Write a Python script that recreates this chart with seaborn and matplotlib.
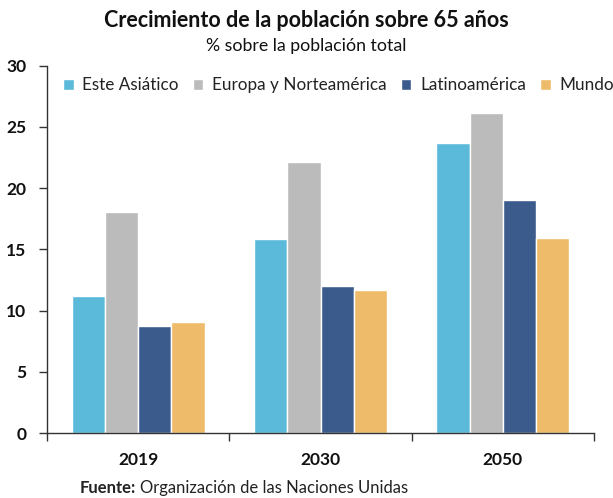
import numpy as np
import pandas as pd
import matplotlib
matplotlib.use("Agg")
import matplotlib.pyplot as plt
import seaborn as sns
from matplotlib.ticker import FixedLocator

years = ["2019", "2030", "2050"]
regions = ["Este Asiático", "Europa y Norteamérica", "Latinoamérica", "Mundo"]
este_asiatico = [11.2, 15.8, 23.7]
europa_na = [18.05, 22.15, 26.15]
latinoamerica = [8.7, 12.0, 19.0]
mundo = [9.1, 11.7, 15.9]
colors = ["#5BB9D9", "#BBBBBB", "#3B5B8D", "#EDBB6A"]

df = pd.DataFrame({
    "year": years * 4,
    "region": [r for r in regions for _ in years],
    "value": este_asiatico + europa_na + latinoamerica + mundo,
})

sns.set_style("white")
plt.rcParams["font.family"] = ["Lato", "DejaVu Sans"]

fig = plt.figure(figsize=(6.13, 4.98), dpi=100)
ax = fig.add_axes([47 / 613, 1 - 433 / 498, (594 - 47) / 613, (433 - 65.5) / 498])

sns.barplot(data=df, x="year", y="value", hue="region", palette=colors,
            width=0.73, ax=ax, legend=True, saturation=1)

ax.set_ylim(0, 30)
ax.set_xlim(-0.5, 2.5)
ax.set_yticks([0, 5, 10, 15, 20, 25, 30])
ax.set_xlabel("")
ax.set_ylabel("")
for lbl in ax.get_yticklabels() + ax.get_xticklabels():
    lbl.set_fontweight("bold")
    lbl.set_fontsize(12.5)
    lbl.set_color("#111111")
ax.tick_params(axis="y", left=True, length=6, width=1, color="#333333", pad=9)
ax.tick_params(axis="x", bottom=False, pad=10)
ax.xaxis.set_minor_locator(FixedLocator([-0.5, 0.5, 1.5, 2.5]))
ax.tick_params(axis="x", which="minor", bottom=True, length=6, width=1, color="#333333")
sns.despine(ax=ax)
for s in ["left", "bottom"]:
    ax.spines[s].set_color("#333333")
    ax.spines[s].set_linewidth(1)

ax.legend(loc="upper left", bbox_to_anchor=(0.03, 0.968), ncol=4, frameon=False,
          handlelength=0.6, handleheight=0.6, handletextpad=0.5, columnspacing=0.85,
          fontsize=12.3, borderaxespad=0, borderpad=0)
for t in ax.get_legend().get_texts():
    t.set_color("#222222")

fig.text(0.5, 1 - 20 / 498, "Crecimiento de la población sobre 65 años",
         ha="center", va="center", fontsize=15.5, fontweight="bold", color="#111111")
fig.text(0.5, 1 - 46 / 498, "% sobre la población total",
         ha="center", va="center", fontsize=12.8, color="#111111")
t1 = fig.text(80 / 613, 1 - 488 / 498, "Fuente:", ha="left", va="center",
              fontsize=12, fontweight="bold", color="#222222")
fig.canvas.draw()
bb = t1.get_window_extent()
fig.text((bb.x1 + 4) / fig.bbox.width, 1 - 488 / 498, "Organización de las Naciones Unidas",
         ha="left", va="center", fontsize=12, color="#222222")

fig.savefig("out.png", dpi=100)
